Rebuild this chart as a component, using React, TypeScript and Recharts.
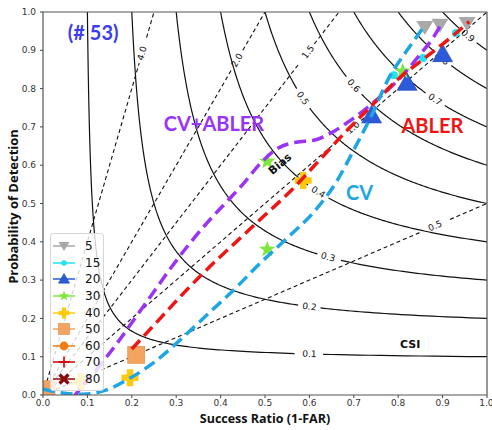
import React from "react";
import {
  ComposedChart,
  Line,
  Scatter,
  XAxis,
  YAxis,
  ReferenceArea,
} from "recharts";

// plot area in px (axes sit around it)
const PLOT_W = 444;
const PLOT_H = 383;
const M_TOP = 12;
const M_RIGHT = 5;
const Y_AXIS_W = 43;
const X_AXIS_H = 35;

// background contours: CSI (solid) and frequency bias (dashed)
const csiLevels = [0.1, 0.2, 0.3, 0.4, 0.5, 0.6, 0.7, 0.8, 0.9];
const csiLabelSR = [0.6, 0.6, 0.642, 0.62, 0.585, 0.7, 0.883, 0.9, 0.957];
const biasLevels = [0.5, 1, 1.5, 2, 4];
const biasLabelSR = [0.883, 0.698, 0.597, 0.437, 0.223];

// fitted curves per experiment
const cvSR = [0.0, 0.04, 0.09, 0.14, 0.19, 0.25, 0.31, 0.37, 0.43, 0.49, 0.55, 0.61, 0.66, 0.7, 0.74, 0.78, 0.82, 0.86];
const cvPOD = [0.016, 0.006, 0.002, 0.012, 0.04, 0.085, 0.145, 0.21, 0.275, 0.345, 0.41, 0.478, 0.555, 0.64, 0.73, 0.83, 0.9, 0.965];

const ablerSR = [0.2, 0.26, 0.32, 0.38, 0.44, 0.5, 0.56, 0.62, 0.68, 0.74, 0.8, 0.86, 0.92, 0.96];
const ablerPOD = [0.12, 0.195, 0.27, 0.34, 0.405, 0.47, 0.535, 0.61, 0.685, 0.755, 0.825, 0.88, 0.935, 0.975];

const mixSR = [0.03, 0.06, 0.09, 0.13, 0.17, 0.21, 0.25, 0.29, 0.33, 0.37, 0.41, 0.45, 0.49, 0.53, 0.57, 0.61, 0.65, 0.69, 0.73, 0.77, 0.81, 0.85, 0.88, 0.9];
const mixPOD = [-0.03, -0.015, 0.025, 0.08, 0.14, 0.205, 0.27, 0.335, 0.395, 0.45, 0.5, 0.55, 0.605, 0.645, 0.66, 0.665, 0.685, 0.715, 0.75, 0.79, 0.835, 0.89, 0.935, 0.975];

// points per threshold (same order as thresholds)
const thresholds = [5, 15, 20, 30, 40, 50, 60, 70, 80];
const ablerPtSR = [0.955, 0.93, 0.9, 0.81, 0.586, 0.21, null, null, null];
const ablerPtPOD = [0.97, 0.945, 0.89, 0.845, 0.56, 0.105, null, null, null];
const cvPtSR = [0.86, 0.79, 0.74, 0.505, 0.196, 0.008, null, null, null];
const cvPtPOD = [0.96, 0.835, 0.73, 0.38, 0.045, 0.015, null, null, null];
const mixPtSR = [0.894, 0.856, 0.82, 0.505, 0.085, null, null, null, null];
const mixPtPOD = [0.966, 0.88, 0.815, 0.61, 0.035, null, null, null, null];

// annotations
const noteText = ["(# 53)", "CV+ABLER", "ABLER", "CV", "Bias", "CSI"];
const noteSR = [0.113, 0.385, 0.877, 0.713, 0.534, 0.827];
const notePOD = [0.948, 0.711, 0.704, 0.529, 0.603, 0.133];

const noteStyle = [
  { color: "#3b3cf0", size: 20, angle: 0, font: "Lato" },
  { color: "#9933f5", size: 20, angle: 0, font: "Lato" },
  { color: "#ee1515", size: 20, angle: 0, font: "Lato" },
  { color: "#1ea6e4", size: 20, angle: 0, font: "Lato" },
  { color: "#111", size: 11, angle: -40, font: "DejaVu Sans" },
  { color: "#111", size: 11, angle: 0, font: "DejaVu Sans" },
];

const markerKind = ["triDown", "dot", "triUp", "star", "plusFilled", "square", "circle", "plus", "xFilled"];
const markerColor = ["#a9a9a9", "#1fe3ee", "#2b5bd8", "#7ce83c", "#ffc90e", "#f4a460", "#f07d12", "#d40000", "#8b0a0a"];
const markerSize = [8.5, 8, 10, 8.5, 8.5, 8.5, 8, 8, 8];

const zip = (xs: number[], ys: number[]) => xs.map((sr, i) => ({ sr, pod: ys[i] }));

const csiPod = (c: number, sr: number) => 1 / (1 / c + 1 - 1 / sr);

// drop points near the inline label so the line breaks there
function splitAtLabel(pts: any[], lx: number, ly: number, r: number) {
  const segs: any[][] = [[]];
  pts.forEach((p) => {
    const d = Math.hypot((p.sr - lx) * PLOT_W, (p.pod - ly) * PLOT_H);
    if (d < r) {
      if (segs[segs.length - 1].length) segs.push([]);
    } else segs[segs.length - 1].push(p);
  });
  return segs.filter((s) => s.length > 1);
}

const csiSegs: any[][] = [];
const contourLabels: any[] = [];
csiLevels.forEach((c, i) => {
  const pts = [];
  for (let k = 0; k <= 200; k++) {
    const inv = 1 + (k / 200) * (1 / c - 1);
    pts.push({ sr: 1 / inv, pod: 1 / (1 / c + 1 - inv) });
  }
  const lx = csiLabelSR[i];
  const ly = csiPod(c, lx);
  csiSegs.push(...splitAtLabel(pts, lx, ly, 11));
  const slope = ((ly / lx) ** 2 * PLOT_H) / PLOT_W;
  contourLabels.push({ sr: lx, pod: ly, text: c.toFixed(1), angle: (Math.atan(slope) * 180) / Math.PI });
});

const biasSegs: any[][] = [];
biasLevels.forEach((b, i) => {
  const endSR = Math.min(1, 1 / b);
  const pts = [];
  for (let k = 0; k <= 60; k++) {
    const sr = (endSR * k) / 60;
    pts.push({ sr, pod: b * sr });
  }
  const lx = biasLabelSR[i];
  const ly = b * lx;
  biasSegs.push(...splitAtLabel(pts, lx, ly, 10));
  contourLabels.push({ sr: lx, pod: ly, text: b.toFixed(1), angle: (-Math.atan((b * PLOT_H) / PLOT_W) * 180) / Math.PI });
});

const markerData = thresholds.map((_, i) =>
  [
    [ablerPtSR[i], ablerPtPOD[i]],
    [cvPtSR[i], cvPtPOD[i]],
    [mixPtSR[i], mixPtPOD[i]],
  ]
    .filter(([x]) => x != null)
    .map(([sr, pod]) => ({ sr, pod }))
);

const notes = noteText.map((text, i) => ({ sr: noteSR[i], pod: notePOD[i], text, i }));

function drawMarker(kind: string, cx: number, cy: number, s: number, color: string) {
  switch (kind) {
    case "triDown":
      return <polygon points={`${cx - s},${cy - s * 0.75} ${cx + s},${cy - s * 0.75} ${cx},${cy + s * 0.9}`} fill={color} />;
    case "triUp":
      return <polygon points={`${cx},${cy - s} ${cx + s},${cy + s * 0.75} ${cx - s},${cy + s * 0.75}`} fill={color} stroke="#1e3fb0" strokeWidth={0.6} />;
    case "dot":
      return <circle cx={cx} cy={cy} r={s * 0.5} fill={color} />;
    case "circle":
      return <circle cx={cx} cy={cy} r={s * 0.8} fill={color} />;
    case "square":
      return <rect x={cx - s} y={cy - s} width={2 * s} height={2 * s} fill={color} stroke="#e08a40" strokeWidth={0.6} />;
    case "star": {
      const pts = [];
      for (let k = 0; k < 10; k++) {
        const r = k % 2 === 0 ? s : s * 0.42;
        const a = -Math.PI / 2 + (k * Math.PI) / 5;
        pts.push(`${cx + r * Math.cos(a)},${cy + r * Math.sin(a)}`);
      }
      return <polygon points={pts.join(" ")} fill={color} />;
    }
    case "plusFilled": {
      const t = s * 0.38;
      const p = [
        [-t, -s], [t, -s], [t, -t], [s, -t], [s, t], [t, t],
        [t, s], [-t, s], [-t, t], [-s, t], [-s, -t], [-t, -t],
      ];
      return <polygon points={p.map(([x, y]) => `${cx + x},${cy + y}`).join(" ")} fill={color} />;
    }
    case "plus":
      return (
        <g stroke={color} strokeWidth={1.6}>
          <line x1={cx - s} y1={cy} x2={cx + s} y2={cy} />
          <line x1={cx} y1={cy - s} x2={cx} y2={cy + s} />
        </g>
      );
    case "xFilled":
      return (
        <g stroke={color} strokeWidth={s * 0.6} strokeLinecap="square">
          <line x1={cx - s * 0.6} y1={cy - s * 0.6} x2={cx + s * 0.6} y2={cy + s * 0.6} />
          <line x1={cx - s * 0.6} y1={cy + s * 0.6} x2={cx + s * 0.6} y2={cy - s * 0.6} />
        </g>
      );
    default:
      return null;
  }
}

const ContourLabel = (p: any) => (
  <text
    x={p.cx}
    y={p.cy}
    transform={`rotate(${p.payload.angle} ${p.cx} ${p.cy})`}
    textAnchor="middle"
    dominantBaseline="central"
    fontSize={9}
    fontFamily="DejaVu Sans"
    fill="#111"
  >
    {p.payload.text}
  </text>
);

const NoteLabel = (p: any) => {
  const st = noteStyle[p.payload.i];
  return (
    <text
      x={p.cx}
      y={p.cy}
      transform={`rotate(${st.angle} ${p.cx} ${p.cy})`}
      textAnchor="middle"
      dominantBaseline="central"
      fontSize={st.size}
      fontFamily={st.font}
      fontWeight={700}
      fill={st.color}
    >
      {p.payload.text}
    </text>
  );
};

const tickStyle = { fontSize: 9, fill: "#333", fontFamily: "DejaVu Sans" };
const ticks = [0, 0.1, 0.2, 0.3, 0.4, 0.5, 0.6, 0.7, 0.8, 0.9, 1];

const YTitle = (props: any) => {
  const vb = props.viewBox;
  const x = 13;
  const y = vb.y + vb.height / 2 + 3;
  return (
    <text x={x} y={y} transform={`rotate(-90 ${x} ${y})`} textAnchor="middle" dominantBaseline="central"
      fontSize={13} fontWeight={700} fontFamily="Open Sans" fill="#111">
      Probability of Detection
    </text>
  );
};

const XTitle = (props: any) => {
  const vb = props.viewBox;
  return (
    <text x={vb.x + vb.width / 2} y={vb.y + 23} textAnchor="middle" dominantBaseline="central"
      fontSize={12.5} fontWeight={700} fontFamily="Open Sans" fill="#111">
      Success Ratio (1-FAR)
    </text>
  );
};

const ThresholdLegend = () => (
  <div
    style={{
      position: "absolute",
      left: 50,
      top: 233,
      width: 52,
      padding: "4px 0 3px 0",
      background: "rgba(255,255,255,0.8)",
      border: "1px solid #d6d6d6",
      borderRadius: 3,
      fontFamily: "DejaVu Sans",
      fontSize: 12,
      color: "#111",
    }}
  >
    {thresholds.map((t, i) => (
      <div key={t} style={{ display: "flex", alignItems: "center", height: 16.6 }}>
        <svg width={30} height={14} style={{ marginLeft: 2 }}>
          <line x1={0} y1={7} x2={22} y2={7} stroke={markerColor[i]} strokeWidth={1.5} />
          {drawMarker(markerKind[i], 11, 7, 5.5, markerColor[i])}
        </svg>
        <span style={{ marginLeft: 2 }}>{t}</span>
      </div>
    ))}
  </div>
);

const curveStyle = { strokeWidth: 3.5, strokeDasharray: "12 6" };

const App: React.FC = () => {
  const width = Y_AXIS_W + PLOT_W + M_RIGHT;
  const height = M_TOP + PLOT_H + X_AXIS_H;
  return (
    <div style={{ position: "absolute", left: 0, top: 0, width, height, overflow: "hidden" }}>
      <ComposedChart width={width} height={height} margin={{ top: M_TOP, right: M_RIGHT, bottom: 0, left: 0 }}>
        <XAxis
          type="number"
          dataKey="sr"
          domain={[0, 1]}
          ticks={ticks}
          allowDataOverflow
          height={X_AXIS_H}
          axisLine={false}
          tickSize={3}
          tickLine={{ stroke: "#444" }}
          tick={tickStyle}
          tickFormatter={(v: number) => v.toFixed(1)}
          label={XTitle}
        />
        <YAxis
          type="number"
          dataKey="pod"
          domain={[0, 1]}
          ticks={ticks}
          allowDataOverflow
          width={Y_AXIS_W}
          axisLine={false}
          tickSize={3}
          tickMargin={4}
          tickLine={{ stroke: "#444" }}
          tick={tickStyle}
          tickFormatter={(v: number) => v.toFixed(1)}
          label={YTitle}
        />
        {csiSegs.map((seg, i) => (
          <Line key={`csi${i}`} data={seg} dataKey="pod" type="linear" stroke="#111" strokeWidth={1.2}
            dot={false} activeDot={false} isAnimationActive={false} legendType="none" zIndex={100} />
        ))}
        {biasSegs.map((seg, i) => (
          <Line key={`bias${i}`} data={seg} dataKey="pod" type="linear" stroke="#111" strokeWidth={1.1}
            strokeDasharray="4 3" dot={false} activeDot={false} isAnimationActive={false} legendType="none" zIndex={100} />
        ))}
        <Scatter data={contourLabels} dataKey="pod" shape={ContourLabel} isAnimationActive={false} zIndex={150} />
        {markerData.map((pts, i) => (
          <Scatter
            key={`m${i}`}
            data={pts}
            dataKey="pod"
            isAnimationActive={false}
            zIndex={300}
            shape={(p: any) => drawMarker(markerKind[i], p.cx, p.cy, markerSize[i], markerColor[i])}
          />
        ))}
        <Line data={zip(mixSR, mixPOD)} dataKey="pod" type="monotone" stroke="#9933f5" {...curveStyle}
          dot={false} activeDot={false} isAnimationActive={false} zIndex={400} />
        <Line data={zip(ablerSR, ablerPOD)} dataKey="pod" type="monotone" stroke="#ee1515" {...curveStyle}
          dot={false} activeDot={false} isAnimationActive={false} zIndex={400} />
        <Line data={zip(cvSR, cvPOD)} dataKey="pod" type="monotone" stroke="#1ea6e4" {...curveStyle}
          dot={false} activeDot={false} isAnimationActive={false} zIndex={400} />
        <Scatter data={notes} dataKey="pod" shape={NoteLabel} isAnimationActive={false} zIndex={500} />
        <ReferenceArea x1={0} x2={1} y1={0} y2={1} fill="none" stroke="#555" strokeWidth={1.2} zIndex={600} />
      </ComposedChart>
      <ThresholdLegend />
    </div>
  );
};

export default App;
